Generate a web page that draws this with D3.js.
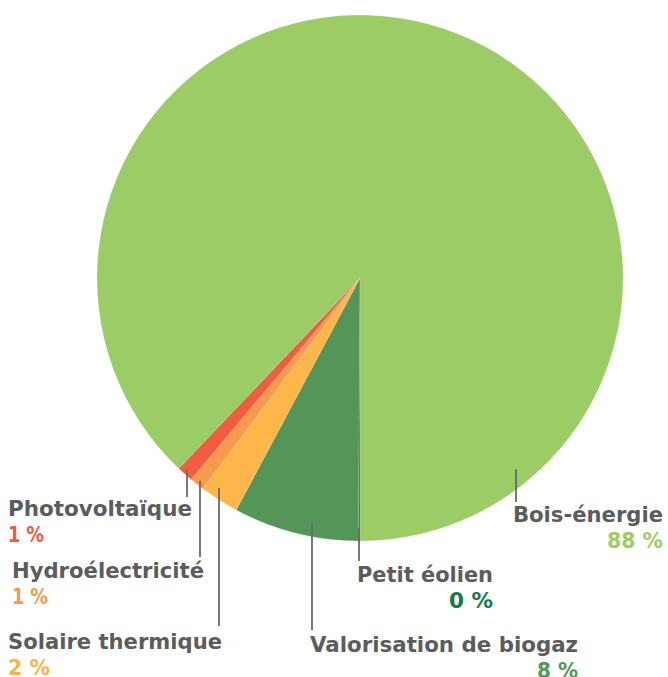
<!DOCTYPE html>
<html>
<head>
<meta charset="utf-8">
<script src="https://cdn.jsdelivr.net/npm/d3@7"></script>
<style>
  html, body { margin: 0; padding: 0; background: #ffffff; }
  svg { display: block; }
  text { font-family: "DejaVu Sans", sans-serif; font-weight: 700; }
</style>
</head>
<body>
<svg id="chart" width="668" height="677"></svg>
<script>
// ---- data ----
const categories = ["Petit éolien", "Valorisation de biogaz", "Solaire thermique", "Hydroélectricité", "Photovoltaïque", "Bois-énergie"];
const values = [0.1, 7.7, 2.4, 0.9, 1.0, 87.9];
const percentLabels = ["0 %", "8 %", "2 %", "1 %", "1 %", "88 %"];
const sliceColors = ["#1b7a4c", "#549558", "#fdb64a", "#f79a4c", "#f15d40", "#9ccc65"];
const percentColors = ["#17784a", "#549558", "#fbb347", "#f6994a", "#ef5a3f", "#9ccc65"];

// ---- layout ----
const W = 668, H = 677;
const cx = 360, cy = 278, R = 263;
// per slice: fraction along slice & radius for leader start, leader end y, label x, baseline y, anchor, text widths
const layout = [
  { t: 0.5,  r: 250, lineEnd: 561, x: 493, y: 582, anchor: "end",   w: 136, pw: 44 },
  { t: 0.39, r: 250, lineEnd: 630, x: 578, y: 652, anchor: "end",   w: 268, pw: 41 },
  { t: 0.67, r: 253, lineEnd: 626, x: 8,   y: 649, anchor: "start", w: 214, pw: 42 },
  { t: 0.46, r: 258, lineEnd: 557, x: 12,  y: 578, anchor: "start", w: 192, pw: 36 },
  { t: 0.62, r: 258, lineEnd: 497, x: 8,   y: 516, anchor: "start", w: 184, pw: 36 },
  { t: 0.876,r: 247, lineEnd: 502, x: 663, y: 522, anchor: "end",   w: 150, pw: 56 }
];
const pctOffset = 26;
const textColor = "#5b5c5e";

const svg = d3.select("#chart");
const g = svg.append("g").attr("transform", `translate(${cx},${cy})`);

const pie = d3.pie().sort(null).value(d => d).startAngle(Math.PI).endAngle(3 * Math.PI);
const arcs = pie(values);
const arc = d3.arc().innerRadius(0).outerRadius(R);

g.selectAll("path.slice")
  .data(arcs)
  .enter().append("path")
  .attr("class", "slice")
  .attr("d", arc)
  .attr("fill", (d, i) => sliceColors[i])
  .attr("stroke", "#ffffff")
  .attr("stroke-opacity", 0.25)
  .attr("stroke-width", 0.5);

// leader lines
arcs.forEach((d, i) => {
  const L = layout[i];
  const a = d.startAngle + (d.endAngle - d.startAngle) * L.t;
  const x = Math.round(L.r * Math.sin(a));
  const y = -L.r * Math.cos(a);
  g.append("line")
    .attr("x1", x).attr("x2", x)
    .attr("y1", y).attr("y2", L.lineEnd - cy)
    .attr("stroke", "#68696b")
    .attr("stroke-width", 1.8);
});

// labels
const lab = svg.append("g");
categories.forEach((c, i) => {
  const L = layout[i];
  lab.append("text")
    .attr("x", L.x).attr("y", L.y)
    .attr("text-anchor", L.anchor)
    .attr("font-size", 21)
    .attr("textLength", L.w)
    .attr("lengthAdjust", "spacingAndGlyphs")
    .attr("fill", textColor)
    .text(c);
  lab.append("text")
    .attr("x", L.x).attr("y", L.y + pctOffset)
    .attr("text-anchor", L.anchor)
    .attr("font-size", 21)
    .attr("textLength", L.pw)
    .attr("lengthAdjust", "spacingAndGlyphs")
    .attr("fill", percentColors[i])
    .text(percentLabels[i]);
});
</script>
</body>
</html>
